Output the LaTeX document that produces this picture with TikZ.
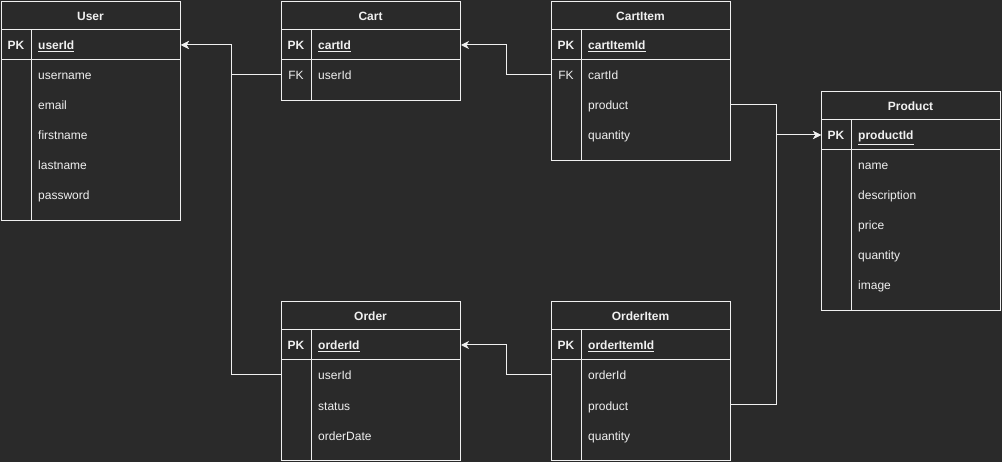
\documentclass[tikz,border=0pt]{standalone}
\usepackage{fontspec}
\setmainfont{Liberation Sans}
\usetikzlibrary{arrows.meta}
\definecolor{bgdark}{HTML}{2A2A2A}
\definecolor{ink}{HTML}{F0F0F0}
\tikzset{
  frame/.style={draw=ink, line width=1pt, minimum width=179, inner sep=0pt, anchor=north west},
  txt/.style={text=ink, inner sep=0pt, text height=12pt, text depth=2pt, font=\fontsize{12}{14}\selectfont},
  title/.style={txt, font=\fontsize{12}{14}\selectfont\bfseries},
  pktag/.style={txt, font=\fontsize{12}{14}\selectfont\bfseries},
  fktag/.style={txt},
  pkfield/.style={txt, anchor=west, font=\fontsize{12}{14}\selectfont\bfseries},
  field/.style={txt, anchor=west},
  rel/.style={draw=ink, line width=1pt},
  relarrow/.style={rel, -{Stealth[length=8pt, width=8pt, inset=2.5pt]}}
}
\def\erframe(#1)(#2,#3)(#4)#5{%
  \node[frame, minimum height=#4] (#1) at (#2,#3) {};
  \node[title] (#1-title) at (#2+89.5,#3+14.5) {#5};
  \draw[rel] (#2,#3+29) -- ++(179,0);
  \draw[rel] (#2,#3+59) -- ++(179,0);
  \draw[rel] (#2+30,#3+29) -- (#2+30,#3+#4);
}

\begin{document}
\begin{tikzpicture}[x=1pt, y=-1pt]
	%%%%% START %%%%%
	\fill[bgdark] (0,0) rectangle (1002,462);
	\useasboundingbox (0,0) rectangle (1002,462);

	% User
	\erframe(user)(1,1)(219){User}
	\node[pktag] (user-pk) at (16,45) {PK};
	\node[pkfield] (user-userId) at (38,45) {\underline{userId}};
	\node[field] (user-username) at (38,75) {username};
	\node[field] (user-email) at (38,105) {email};
	\node[field] (user-firstname) at (38,135) {firstname};
	\node[field] (user-lastname) at (38,165) {lastname};
	\node[field] (user-password) at (38,195) {password};

	% Cart
	\erframe(cart)(281,1)(99){Cart}
	\node[pktag] (cart-pk) at (296,45) {PK};
	\node[pkfield] (cart-cartId) at (318,45) {\underline{cartId}};
	\node[fktag] (cart-fk) at (296,75) {FK};
	\node[field] (cart-userId) at (318,75) {userId};

	% CartItem
	\erframe(cartitem)(551,1)(159){CartItem}
	\node[pktag] (cartitem-pk) at (566,45) {PK};
	\node[pkfield] (cartitem-cartItemId) at (588,45) {\underline{cartItemId}};
	\node[fktag] (cartitem-fk) at (566,75) {FK};
	\node[field] (cartitem-cartId) at (588,75) {cartId};
	\node[field] (cartitem-product) at (588,105) {product};
	\node[field] (cartitem-quantity) at (588,135) {quantity};

	% Product
	\erframe(product)(821,91)(219){Product}
	\node[pktag] (product-pk) at (836,135) {PK};
	\node[pkfield] (product-productId) at (858,135) {\underline{productId}};
	\node[field] (product-name) at (858,165) {name};
	\node[field] (product-description) at (858,195) {description};
	\node[field] (product-price) at (858,225) {price};
	\node[field] (product-quantity) at (858,255) {quantity};
	\node[field] (product-image) at (858,285) {image};

	% Order
	\erframe(order)(281,301)(159){Order}
	\node[pktag] (order-pk) at (296,345) {PK};
	\node[pkfield] (order-orderId) at (318,345) {\underline{orderId}};
	\node[field] (order-userId) at (318,375) {userId};
	\node[field] (order-status) at (318,405) {status};
	\node[field] (order-orderDate) at (318,435) {orderDate};

	% OrderItem
	\erframe(orderitem)(551,301)(159){OrderItem}
	\node[pktag] (orderitem-pk) at (566,345) {PK};
	\node[pkfield] (orderitem-orderItemId) at (588,345) {\underline{orderItemId}};
	\node[field] (orderitem-orderId) at (588,375) {orderId};
	\node[field] (orderitem-product) at (588,405) {product};
	\node[field] (orderitem-quantity) at (588,435) {quantity};

	% relations
	\draw[relarrow] (cart.west |- cart-userId) -- ++(-50,0) |- (user.east |- user-userId);
	\draw[relarrow] (order.west |- order-userId) -- ++(-50,0) |- (user.east |- user-userId);
	\draw[relarrow] (cartitem.west |- cartitem-cartId) -- ++(-45,0) |- (cart.east |- cart-cartId);
	\draw[relarrow] (orderitem.west |- orderitem-orderId) -- ++(-45,0) |- (order.east |- order-orderId);
	\draw[relarrow] (cartitem.east |- cartitem-product) -- ++(45,0) |- (product.west |- product-productId);
	\draw[relarrow] (orderitem.east |- orderitem-product) -- ++(45,0) |- (product.west |- product-productId);
	%%%%% END %%%%%
\end{tikzpicture}
\end{document}
